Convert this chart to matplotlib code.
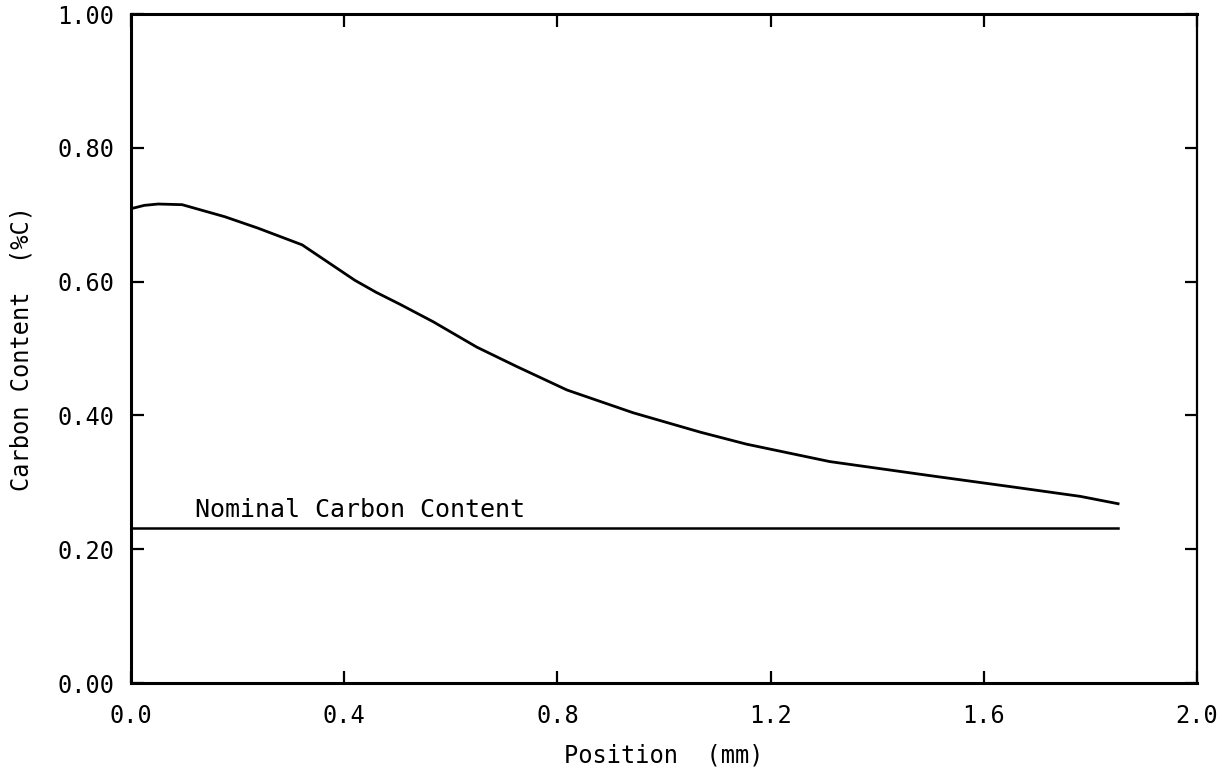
import matplotlib
matplotlib.use('Agg')
import matplotlib.pyplot as plt

# carbon profile
position = [0.0, 0.025, 0.051, 0.096, 0.176, 0.238, 0.321, 0.364, 0.420, 0.460,
            0.505, 0.567, 0.649, 0.724, 0.818, 0.942, 1.068, 1.155, 1.311, 1.499,
            1.655, 1.781, 1.852]
carbon = [0.709, 0.714, 0.716, 0.715, 0.697, 0.680, 0.655, 0.632, 0.602, 0.584,
          0.566, 0.540, 0.502, 0.473, 0.438, 0.404, 0.375, 0.357, 0.331, 0.310,
          0.293, 0.279, 0.268]

nominal_x = [0.0, 1.852]
nominal_c = [0.232, 0.232]

xticks = [0.0, 0.4, 0.8, 1.2, 1.6, 2.0]
yticks = [0.0, 0.2, 0.4, 0.6, 0.8, 1.0]

plt.rcParams['font.family'] = ['DejaVu Sans Mono']

fig = plt.figure(figsize=(12.22, 7.75), dpi=100)
ax = fig.add_axes([0.1072, 0.1187, 0.8723, 0.8632])

ax.plot(position, carbon, color='black', lw=2.0)
ax.plot(nominal_x, nominal_c, color='black', lw=1.8)
ax.text(0.12, 0.240, 'Nominal Carbon Content', fontsize=18, ha='left', va='bottom')

ax.set_xlim(0, 2.0)
ax.set_ylim(0, 1.0)
ax.set_xticks(xticks)
ax.set_xticklabels([f'{v:.1f}' for v in xticks])
ax.set_yticks(yticks)
ax.set_yticklabels([f'{v:.2f}' for v in yticks])
ax.tick_params(direction='in', length=9, width=1.6, labelsize=17,
               top=True, right=True, pad=12)
ax.tick_params(axis='x', pad=15)

for side in ['left', 'bottom', 'top']:
    ax.spines[side].set_linewidth(2.2)
ax.spines['right'].set_linewidth(1.6)

ax.set_xlabel('Position  (mm)', fontsize=17, labelpad=11)
ax.set_ylabel('Carbon Content  (%C)', fontsize=17, labelpad=17)

plt.savefig('out.png', dpi=100)
plt.close()
